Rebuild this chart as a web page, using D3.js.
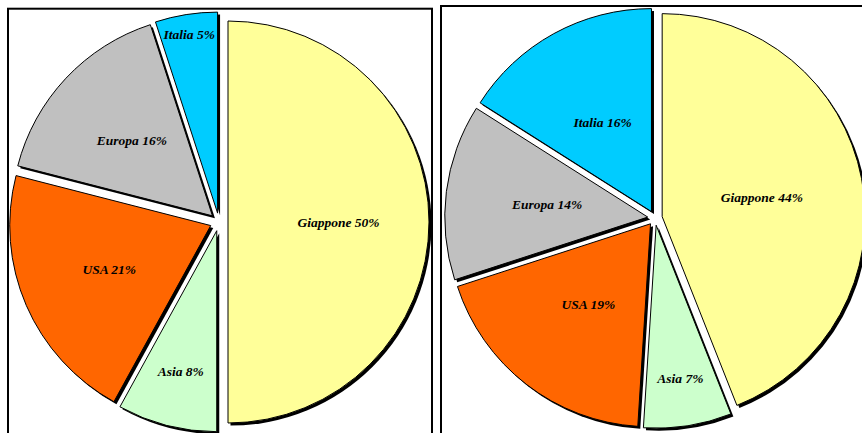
<!DOCTYPE html>
<html>
<head>
<meta charset="utf-8">
<script src="https://cdn.jsdelivr.net/npm/d3@7"></script>
<style>
  body { margin: 0; background: #fff; }
  svg { display: block; }
</style>
</head>
<body>
<div id="chart"></div>
<script>
// data
var categories = ["Giappone", "Asia", "USA", "Europa", "Italia"];
var valuesLeft = [50, 8, 21, 16, 5];
var valuesRight = [44, 7, 19, 14, 16];
var colors = ["#FFFF99", "#CCFFCC", "#FF6600", "#C0C0C0", "#00CCFF"];

var width = 862, height = 433;

var svg = d3.select("#chart")
  .append("svg")
  .attr("width", width)
  .attr("height", height);

// panel frames
svg.append("rect")
  .attr("x", 8).attr("y", 8.7)
  .attr("width", 424).attr("height", 440)
  .attr("fill", "none").attr("stroke", "#000").attr("stroke-width", 2);
svg.append("rect")
  .attr("x", 441).attr("y", 6)
  .attr("width", 440).attr("height", 440)
  .attr("fill", "none").attr("stroke", "#000").attr("stroke-width", 2);

var panels = [
  {values: valuesLeft,  cx: 219, cy: 222, r: 201, explode: 9,   labelBase: 0.55},
  {values: valuesRight, cx: 655, cy: 218, r: 203, explode: 7.3, labelBase: 0.5}
];

var pie = d3.pie().sort(null).value(function(d) { return d.value; });

// narrow slices get their label pushed out toward the rim
function labelFrac(pct, base) {
  if (pct < 10) return Math.min(0.92, 0.42 + 2.4 / pct);
  return base;
}

panels.forEach(function(p) {
  var rows = categories.map(function(c, i) {
    return {name: c, value: p.values[i], color: colors[i]};
  });
  var total = d3.sum(p.values);
  var arcs = pie(rows);
  var arc = d3.arc().innerRadius(0).outerRadius(p.r);

  var g = svg.append("g")
    .attr("transform", "translate(" + p.cx + "," + p.cy + ")");

  function offset(d) {
    var a = (d.startAngle + d.endAngle) / 2;
    return [Math.sin(a) * p.explode, -Math.cos(a) * p.explode];
  }

  // shadows
  g.selectAll("path.shadow")
    .data(arcs)
    .join("path")
    .attr("class", "shadow")
    .attr("transform", function(d) {
      var o = offset(d);
      return "translate(" + (o[0] + 2.5) + "," + (o[1] + 2.5) + ")";
    })
    .attr("d", arc)
    .attr("fill", "#000");

  // slices
  g.selectAll("path.slice")
    .data(arcs)
    .join("path")
    .attr("class", "slice")
    .attr("transform", function(d) {
      var o = offset(d);
      return "translate(" + o[0] + "," + o[1] + ")";
    })
    .attr("d", arc)
    .attr("fill", function(d) { return d.data.color; })
    .attr("stroke", "#000")
    .attr("stroke-width", 1);

  // labels
  g.selectAll("text")
    .data(arcs)
    .join("text")
    .attr("transform", function(d) {
      var a = (d.startAngle + d.endAngle) / 2;
      var pct = Math.round(d.data.value / total * 100);
      var dist = p.explode + labelFrac(pct, p.labelBase) * p.r;
      return "translate(" + (Math.sin(a) * dist) + "," + (-Math.cos(a) * dist) + ")";
    })
    .attr("text-anchor", "middle")
    .attr("dy", "0.35em")
    .attr("font-family", "'Liberation Serif', 'Times New Roman', serif")
    .attr("font-style", "italic")
    .attr("font-weight", "bold")
    .attr("font-size", "13.5px")
    .attr("fill", "#000")
    .text(function(d) {
      return d.data.name + " " + Math.round(d.data.value / total * 100) + "%";
    });
});
</script>
</body>
</html>
